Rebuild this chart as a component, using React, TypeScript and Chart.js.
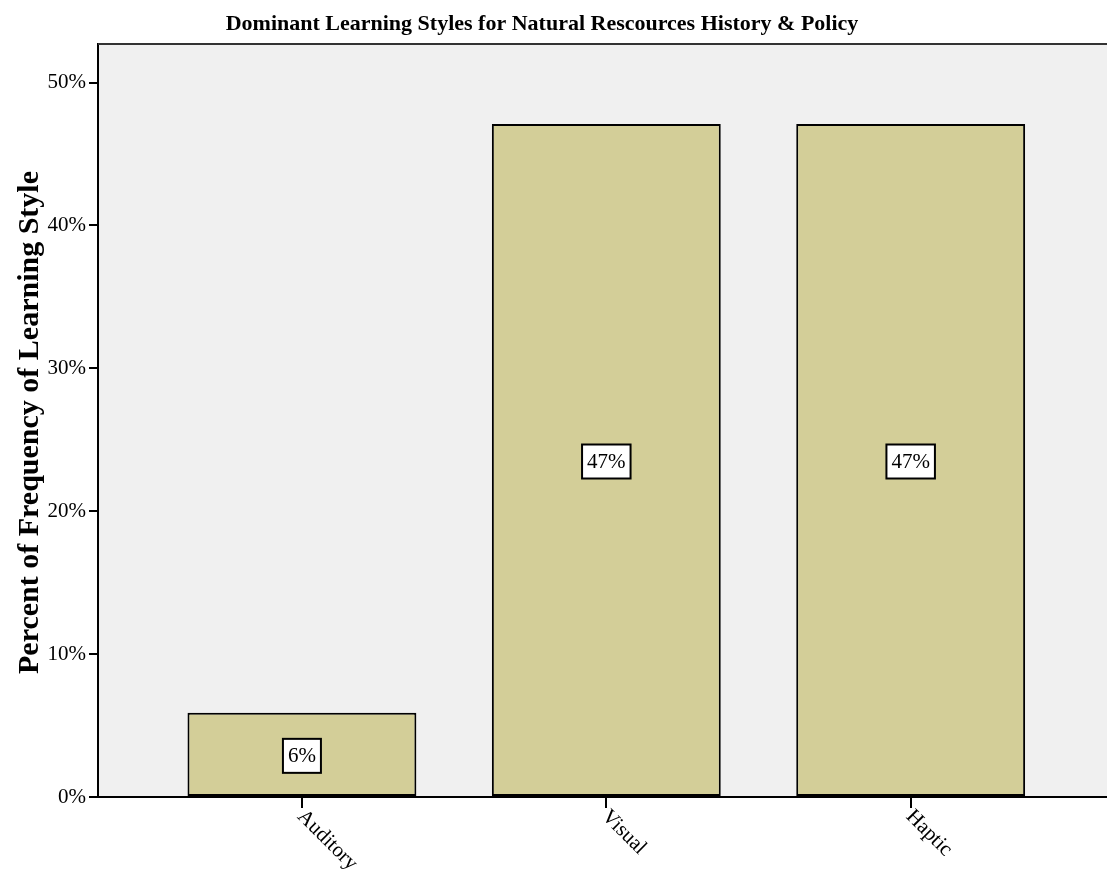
import React, { useEffect, useRef } from "react";
import { Chart, registerables } from "chart.js";

Chart.register(...registerables);

const categories = ["Auditory", "Visual", "Haptic"];
const positions = [1, 2, 3];
const percentValues = [5.9, 47.1, 47.1];
const yTicks = [0, 10, 20, 30, 40, 50];

const TITLE = "Dominant Learning Styles for Natural Rescources History & Policy";
const Y_TITLE = "Percent of Frequency of Learning Style";
const SERIF = "'Liberation Serif', 'Times New Roman', serif";

const decorPlugin = {
  id: "decor",
  beforeDraw(chart: any) {
    const { ctx, chartArea } = chart;
    ctx.save();
    ctx.fillStyle = "#f0f0f0";
    ctx.fillRect(chartArea.left, chartArea.top, chartArea.right - chartArea.left, chartArea.bottom - chartArea.top);
    ctx.restore();
  },
  afterDatasetsDraw(chart: any) {
    const { ctx } = chart;
    const meta = chart.getDatasetMeta(0);
    ctx.save();
    ctx.font = `21px ${SERIF}`;
    ctx.textAlign = "center";
    ctx.textBaseline = "middle";
    meta.data.forEach((bar: any, i: number) => {
      const v = percentValues[i];
      const text = Math.round(v) + "%";
      const cx = bar.x;
      const cy = (bar.y + bar.base) / 2 + 1.5;
      const w = ctx.measureText(text).width + 10;
      const h = 34;
      ctx.fillStyle = "#ffffff";
      ctx.fillRect(cx - w / 2, cy - h / 2, w, h);
      ctx.strokeStyle = "#000000";
      ctx.lineWidth = 2;
      ctx.strokeRect(cx - w / 2, cy - h / 2, w, h);
      ctx.fillStyle = "#000000";
      ctx.fillText(text, cx, cy + 1);
    });
    ctx.restore();
  },
  afterDraw(chart: any) {
    const { ctx, chartArea } = chart;
    const xs = chart.scales.x;
    ctx.save();
    ctx.strokeStyle = "#333333";
    ctx.lineWidth = 2;
    ctx.beginPath();
    ctx.moveTo(chartArea.left, chartArea.top);
    ctx.lineTo(chartArea.right, chartArea.top);
    ctx.stroke();
    ctx.fillStyle = "#000000";
    ctx.font = `bold 22px ${SERIF}`;
    ctx.textAlign = "center";
    ctx.textBaseline = "middle";
    ctx.fillText(TITLE, 542, 24);
    ctx.save();
    ctx.translate(30, (chartArea.top + chartArea.bottom) / 2 + 2);
    ctx.rotate(-Math.PI / 2);
    ctx.font = `bold 30px ${SERIF}`;
    ctx.fillText(Y_TITLE, 0, 0);
    ctx.restore();
    ctx.font = `21px ${SERIF}`;
    ctx.textAlign = "left";
    ctx.textBaseline = "top";
    categories.forEach((c, i) => {
      const x = xs.getPixelForValue(positions[i]);
      ctx.save();
      ctx.translate(x + 6, chartArea.bottom + 9);
      ctx.rotate(Math.PI / 4);
      ctx.fillText(c, 0, 0);
      ctx.restore();
    });
    ctx.restore();
  },
};

export default function App() {
  const ref = useRef<HTMLCanvasElement>(null);
  useEffect(() => {
    document.body.style.margin = "0";
    if (!ref.current) return;
    const chart = new Chart(ref.current, {
      type: "bar",
      data: {
        datasets: [
          {
            data: positions.map((p, i) => ({ x: p, y: percentValues[i] })),
            backgroundColor: "#d3ce98",
            borderColor: "#000000",
            borderWidth: 2,
            borderSkipped: false,
            barPercentage: 0.752,
            categoryPercentage: 1,
          },
        ],
      },
      options: {
        animation: false,
        responsive: false,
        maintainAspectRatio: false,
        layout: { padding: { top: 44, bottom: 63, left: 0, right: 0 } },
        plugins: { legend: { display: false }, title: { display: false }, tooltip: { enabled: false } },
        scales: {
          x: {
            type: "linear",
            min: 0.33,
            max: 3.645,
            offset: false,
            afterBuildTicks: (s: any) => {
              s.ticks = positions.map((v) => ({ value: v }));
            },
            ticks: { display: false },
            grid: { offset: false, drawOnChartArea: false, drawTicks: true, tickLength: 11, color: "#000000", lineWidth: 2 },
            border: { display: true, color: "#000000", width: 2 },
          },
          y: {
            min: 0,
            max: 52.7,
            afterFit: (s: any) => {
              s.width = 98;
            },
            afterBuildTicks: (s: any) => {
              s.ticks = yTicks.map((v) => ({ value: v }));
            },
            ticks: {
              color: "#000000",
              padding: 3,
              font: { family: SERIF, size: 21 },
              callback: (v: any) => v + "%",
            },
            grid: { drawOnChartArea: false, drawTicks: true, tickLength: 9, color: "#000000", lineWidth: 2 },
            border: { display: true, color: "#000000", width: 2 },
          },
        },
      },
      plugins: [decorPlugin],
    });
    return () => chart.destroy();
  }, []);
  return <canvas ref={ref} width={1107} height={871} style={{ display: "block" }} />;
}
